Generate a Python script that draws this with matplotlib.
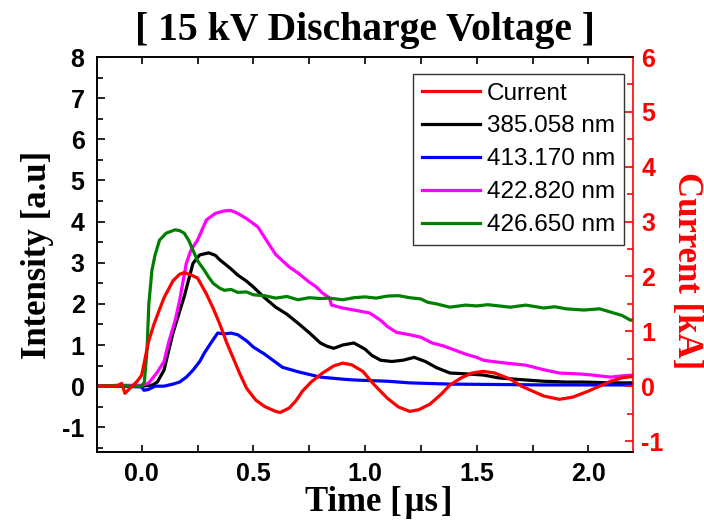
import matplotlib
matplotlib.use("Agg")
import matplotlib.pyplot as plt
from matplotlib.ticker import MultipleLocator, FormatStrFormatter

# ---------------- data ----------------
title = "[ 15 kV Discharge Voltage ]"

t_cur = [-0.2, -0.15, -0.11, -0.09, -0.075, -0.05, -0.02, 0.0, 0.01, 0.03, 0.055, 0.08, 0.1,
         0.14, 0.17, 0.19, 0.22, 0.25, 0.29, 0.32, 0.35, 0.38, 0.41, 0.44, 0.47, 0.51, 0.55,
         0.6, 0.62, 0.66, 0.69, 0.72, 0.76, 0.81, 0.86, 0.9, 0.94, 0.99, 1.04, 1.1, 1.15, 1.2,
         1.24, 1.29, 1.34, 1.38, 1.43, 1.48, 1.53, 1.58, 1.65, 1.7, 1.75, 1.8, 1.87, 1.93, 2.0,
         2.05, 2.1, 2.15, 2.2]
current = [0.0, 0.0, 0.0, 0.05, -0.13, -0.03, 0.09, 0.2, 0.4, 0.8, 1.13, 1.4, 1.61,
           1.92, 2.04, 2.07, 2.03, 1.97, 1.68, 1.42, 1.13, 0.8, 0.51, 0.22, -0.04, -0.25, -0.37,
           -0.46, -0.48, -0.4, -0.27, -0.09, 0.08, 0.24, 0.37, 0.42, 0.39, 0.27, 0.03, -0.22, -0.38, -0.46,
           -0.43, -0.33, -0.15, 0.02, 0.15, 0.24, 0.27, 0.24, 0.13, 0.0, -0.09, -0.18, -0.24, -0.2, -0.09,
           0.0, 0.09, 0.15, 0.18]

t_385 = [-0.2, -0.1, 0.0, 0.05, 0.07, 0.1, 0.14, 0.19, 0.23, 0.26, 0.3, 0.33, 0.35, 0.4, 0.43,
         0.47, 0.5, 0.55, 0.6, 0.65, 0.7, 0.75, 0.8, 0.83, 0.86, 0.9, 0.95, 1.0, 1.03, 1.07, 1.12,
         1.17, 1.22, 1.27, 1.32, 1.38, 1.45, 1.53, 1.6, 1.72, 1.8, 1.9, 1.98, 2.1, 2.2]
i_385 = [0.0, 0.01, 0.0, 0.03, 0.1, 0.39, 1.29, 2.17, 2.99, 3.19, 3.24, 3.18, 3.07, 2.85, 2.7,
         2.55, 2.41, 2.15, 1.92, 1.75, 1.53, 1.3, 1.05, 0.97, 0.92, 1.0, 1.05, 0.9, 0.75, 0.63, 0.6,
         0.63, 0.7, 0.6, 0.45, 0.32, 0.3, 0.27, 0.2, 0.15, 0.12, 0.1, 0.1, 0.08, 0.08]

t_413 = [-0.2, -0.1, 0.0, 0.01, 0.03, 0.06, 0.1, 0.14, 0.17, 0.2, 0.23, 0.26, 0.28, 0.31, 0.34,
         0.37, 0.4, 0.43, 0.47, 0.5, 0.55, 0.6, 0.63, 0.7, 0.8, 0.9, 0.95, 1.0, 1.1, 1.2, 1.38,
         1.6, 1.8, 2.0, 2.2]
i_413 = [0.0, 0.0, -0.02, -0.1, -0.08, 0.0, 0.0, 0.05, 0.1, 0.22, 0.39, 0.6, 0.8, 1.05, 1.29,
         1.27, 1.29, 1.25, 1.1, 0.95, 0.78, 0.58, 0.46, 0.35, 0.22, 0.17, 0.15, 0.14, 0.12, 0.08, 0.05,
         0.04, 0.03, 0.03, 0.03]

t_422 = [-0.2, -0.1, 0.0, 0.03, 0.05, 0.07, 0.1, 0.12, 0.15, 0.17, 0.2, 0.22, 0.25, 0.29, 0.33,
         0.37, 0.4, 0.43, 0.47, 0.52, 0.57, 0.6, 0.63, 0.66, 0.7, 0.75, 0.78, 0.81, 0.84, 0.85, 0.9,
         0.95, 1.0, 1.02, 1.07, 1.1, 1.14, 1.2, 1.25, 1.3, 1.35, 1.38, 1.45, 1.5, 1.53, 1.6, 1.65,
         1.72, 1.8, 1.87, 1.95, 2.0, 2.05, 2.1, 2.15, 2.2]
i_422 = [0.0, 0.02, 0.02, 0.07, 0.2, 0.34, 0.6, 1.05, 1.6, 2.09, 2.99, 3.3, 3.55, 4.04, 4.2,
         4.26, 4.27, 4.2, 4.07, 3.87, 3.45, 3.2, 3.05, 2.9, 2.75, 2.53, 2.42, 2.26, 2.15, 1.97, 1.9,
         1.85, 1.8, 1.78, 1.6, 1.45, 1.31, 1.25, 1.19, 1.05, 0.98, 0.92, 0.78, 0.7, 0.63, 0.58, 0.55,
         0.51, 0.4, 0.32, 0.3, 0.28, 0.25, 0.22, 0.25, 0.27]

t_426 = [-0.2, -0.1, -0.05, 0.0, 0.012, 0.024, 0.032, 0.046, 0.06, 0.08, 0.11, 0.15, 0.17, 0.19,
         0.21, 0.23, 0.25, 0.28, 0.3, 0.32, 0.35, 0.37, 0.4, 0.43, 0.47, 0.5, 0.55, 0.6, 0.65, 0.7,
         0.75, 0.8, 0.84, 0.9, 0.95, 1.0, 1.05, 1.1, 1.15, 1.2, 1.25, 1.28, 1.32, 1.38, 1.45, 1.5,
         1.55, 1.6, 1.65, 1.72, 1.8, 1.85, 1.9, 1.98, 2.05, 2.1, 2.15, 2.19, 2.2]
i_426 = [0.0, 0.02, 0.0, 0.0, 0.1, 0.88, 2.0, 2.82, 3.19, 3.55, 3.72, 3.8, 3.78, 3.72,
         3.55, 3.3, 3.05, 2.82, 2.65, 2.5, 2.38, 2.33, 2.35, 2.28, 2.29, 2.22, 2.2, 2.14, 2.18, 2.1,
         2.15, 2.13, 2.14, 2.1, 2.15, 2.17, 2.14, 2.19, 2.2, 2.15, 2.12, 2.04, 2.0, 1.92, 1.97, 1.95,
         1.98, 1.95, 1.92, 1.97, 1.9, 1.93, 1.88, 1.85, 1.88, 1.8, 1.72, 1.6, 1.62]

labels = ["Current", "385.058 nm", "413.170 nm", "422.820 nm", "426.650 nm"]
colors = ["#ff0000", "#000000", "#0000ff", "#ff00ff", "#008000"]

# ---------------- figure ----------------
SANS = ["Liberation Sans", "DejaVu Sans"]
SERIF = ["Liberation Serif", "DejaVu Serif"]
RED = "#ff0000"

fig = plt.figure(figsize=(7.04, 5.26), dpi=100)
ax = fig.add_axes([0.1378, 0.1407, 0.7614, 0.7509])
ax2 = ax.twinx()

lw = 2.3
l1, = ax.plot(t_385, i_385, color=colors[1], lw=lw, label=labels[1])
l2, = ax.plot(t_413, i_413, color=colors[2], lw=lw, label=labels[2])
l3, = ax.plot(t_422, i_422, color=colors[3], lw=lw, label=labels[3])
l4, = ax.plot(t_426, i_426, color=colors[4], lw=lw, label=labels[4])
l0, = ax2.plot(t_cur, current, color=colors[0], lw=lw, label=labels[0])

ax.set_xlim(-0.2, 2.2)
ax.set_ylim(-1.6, 8)
ax2.set_ylim(-1.2, 6)

ax.xaxis.set_major_locator(MultipleLocator(0.5))
ax.xaxis.set_minor_locator(MultipleLocator(0.25))
ax.yaxis.set_major_locator(MultipleLocator(1))
ax.yaxis.set_minor_locator(MultipleLocator(0.5))
ax2.yaxis.set_major_locator(MultipleLocator(1))
ax2.yaxis.set_minor_locator(MultipleLocator(0.5))

ax.xaxis.set_major_formatter(FormatStrFormatter("%.1f"))
ax.yaxis.set_major_formatter(FormatStrFormatter("%d"))
ax2.yaxis.set_major_formatter(FormatStrFormatter("%d"))

ax.tick_params(axis="x", which="both", direction="in", top=True, bottom=True,
               length=5, width=1.2, pad=7)
ax.tick_params(axis="y", which="major", direction="in", left=True, right=False,
               length=6, width=1.2, pad=9)
ax.tick_params(axis="y", which="minor", direction="in", left=True, right=False,
               length=4, width=1.2)
ax2.tick_params(axis="y", which="major", direction="in", length=6, width=1.2,
                colors=RED, pad=6)
ax2.tick_params(axis="y", which="minor", direction="in", length=4, width=1.2,
                colors=RED)

for lab in ax.get_xticklabels() + ax.get_yticklabels() + ax2.get_yticklabels():
    lab.set_fontfamily(SANS)
    lab.set_fontweight("bold")
    lab.set_fontsize(18)
for lab in ax2.get_yticklabels():
    lab.set_color(RED)

for sp in ["left", "bottom", "top"]:
    ax.spines[sp].set_linewidth(1.2)
    ax2.spines[sp].set_linewidth(1.2)
ax2.spines["right"].set_color(RED)
ax2.spines["right"].set_linewidth(1.2)
ax.spines["right"].set_visible(False)

ax.set_xlabel("Time [\u200aμs\u200a]", fontfamily=SERIF, fontweight="bold", fontsize=25)
ax.xaxis.set_label_coords(0.526, -0.085, transform=ax.transAxes)
ax.xaxis.label.set_verticalalignment("top")
ax.set_ylabel("Intensity [a.u]", fontfamily=SERIF, fontweight="bold", fontsize=25, labelpad=6)
ax2.set_ylabel("Current [kA]", fontfamily=SERIF, fontweight="bold", fontsize=25,
               color=RED, rotation=270)
ax2.yaxis.set_label_coords(1.099, 0.458, transform=ax.transAxes)
ax2.yaxis.label.set_verticalalignment("center")
ax2.yaxis.label.set_horizontalalignment("center")
ax.set_title(title, fontfamily=SERIF, fontweight="bold", fontsize=28.5, pad=12)

leg = ax2.legend(handles=[l0, l1, l2, l3, l4], loc="upper right",
                 bbox_to_anchor=(0.983, 0.957), prop={"family": SANS, "size": 17.5},
                 frameon=True, fancybox=False, handlelength=2.4, handletextpad=0.29,
                 labelspacing=0.45, borderpad=0.35, borderaxespad=0)
leg.get_frame().set_edgecolor("black")
leg.get_frame().set_linewidth(1.0)

fig.savefig("out.png", dpi=100)
